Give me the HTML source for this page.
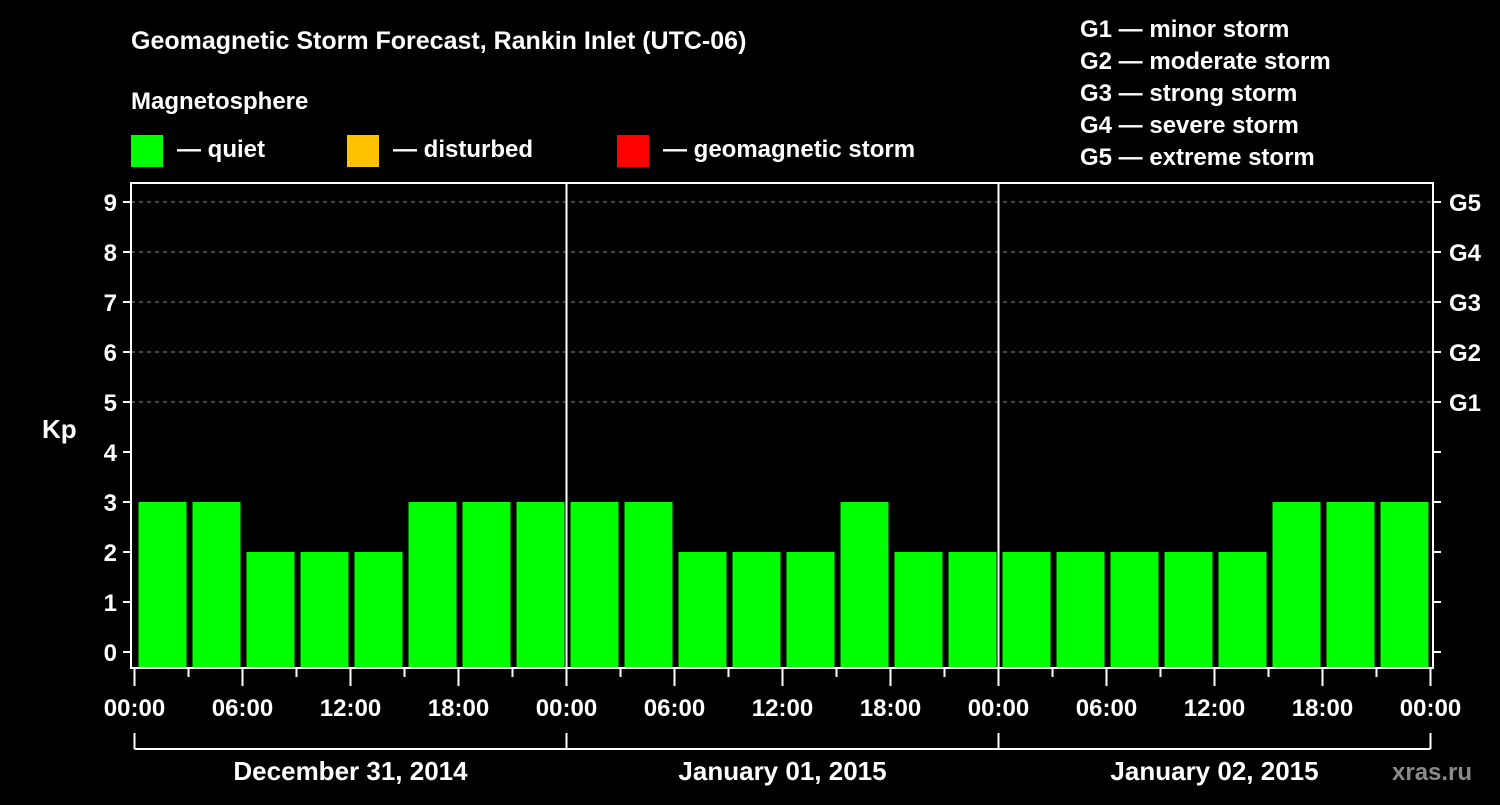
<!DOCTYPE html>
<html><head><meta charset="utf-8"><style>
body{margin:0;background:#000;width:1500px;height:800px;overflow:hidden}
svg text{font-family:"Liberation Sans",sans-serif;font-weight:bold;fill:#fff}
</style></head><body>
<svg id="c" width="1500" height="800">
<text x="131" y="49" font-size="25">Geomagnetic Storm Forecast, Rankin Inlet (UTC-06)</text>
<text x="131" y="109" font-size="24">Magnetosphere</text>
<rect x="131" y="135" width="32" height="32" fill="#00ff00"/>
<text x="177" y="157" font-size="24">— quiet</text>
<rect x="347" y="135" width="32" height="32" fill="#ffc000"/>
<text x="393" y="157" font-size="24">— disturbed</text>
<rect x="617" y="135" width="32" height="32" fill="#ff0000"/>
<text x="663" y="157" font-size="24">— geomagnetic storm</text>
<g font-size="24">
<text x="1080" y="37">G1 — minor storm</text>
<text x="1080" y="69">G2 — moderate storm</text>
<text x="1080" y="101">G3 — strong storm</text>
<text x="1080" y="133">G4 — severe storm</text>
<text x="1080" y="165">G5 — extreme storm</text>
</g>
<text x="42" y="438" font-size="26">Kp</text>
<text x="1392" y="780" font-size="24" fill="#888" style="fill:#8a8a8a">xras.ru</text>
<g id="plot"></g>
</svg>
<script>
const kpValues=[3,3,2,2,2,3,3,3,3,3,2,2,2,3,2,2,2,2,2,2,2,3,3,3];
const kpTicks=[0,1,2,3,4,5,6,7,8,9];
const gLabels=["G1","G2","G3","G4","G5"];
const timeLabels=["00:00","06:00","12:00","18:00","00:00","06:00","12:00","18:00","00:00","06:00","12:00","18:00","00:00"];
const dayLabels=["December 31, 2014","January 01, 2015","January 02, 2015"];
const NS="http://www.w3.org/2000/svg";
const g=document.getElementById('plot');
const X0=134.5,SLOT=54,L=131,R=1433,T=183,B=668;
const x=i=>X0+i*SLOT;
const y=v=>652-v*50;
function mk(tag,a,p){const e=document.createElementNS(NS,tag);for(const k in a)e.setAttribute(k,a[k]);(p||g).appendChild(e);return e;}
kpTicks.forEach(k=>{
 if(k>=5){const l=mk('line',{x1:L,x2:R,y1:y(k),y2:y(k),stroke:'#888','stroke-dasharray':'4,4'});
 
 }
 const t=mk('line',{x1:L-8,x2:L,y1:y(k),y2:y(k),stroke:'#fff','stroke-width':2});
 
 
 const t2=mk('line',{x1:R,x2:R+8,y1:y(k),y2:y(k),stroke:'#fff','stroke-width':2});
 
 
 const tx=mk('text',{x:L-14,y:y(k)+9,'font-size':24,'text-anchor':'end'});tx.textContent=k;
 
 
});
gLabels.forEach((s,i)=>{const tx=mk('text',{x:1449,y:y(5+i)+9,'font-size':24});tx.textContent=s;
 
 });
kpValues.forEach((v,i)=>{
 const c=v>=5?'#ff0000':(v>=4?'#ffc000':'#00ff00');
 const b=mk('rect',{x:x(i)+4,y:y(v),width:48,height:B-y(v),fill:c});
 
 
});
for(let d=1;d<dayLabels.length;d++){const l=mk('line',{x1:x(d*8),x2:x(d*8),y1:T,y2:B,stroke:'#fff','stroke-width':2});
 
 }
const fr=mk('rect',{x:L,y:T,width:R-L,height:B-T,fill:'none',stroke:'#fff','stroke-width':2});


for(let i=0;i<=24;i++){const maj=i%2==0;
 const t=mk('line',{x1:x(i),x2:x(i),y1:B,y2:B+(maj?18:9),stroke:'#fff','stroke-width':2});
 
 }
timeLabels.forEach((s,i)=>{const tx=mk('text',{x:x(i*2),y:716,'font-size':24,'text-anchor':'middle'});tx.textContent=s;
 
 });
const br=mk('line',{x1:x(0),x2:x(24),y1:749,y2:749,stroke:'#fff','stroke-width':2});


for(let d=0;d<=dayLabels.length;d++){const t=mk('line',{x1:x(d*8),x2:x(d*8),y1:733,y2:749,stroke:'#fff','stroke-width':2});
 
 }
dayLabels.forEach((s,d)=>{const tx=mk('text',{x:x(d*8+4),y:780,'font-size':26,'text-anchor':'middle'});tx.textContent=s;
 
 });
</script>
</body></html>
